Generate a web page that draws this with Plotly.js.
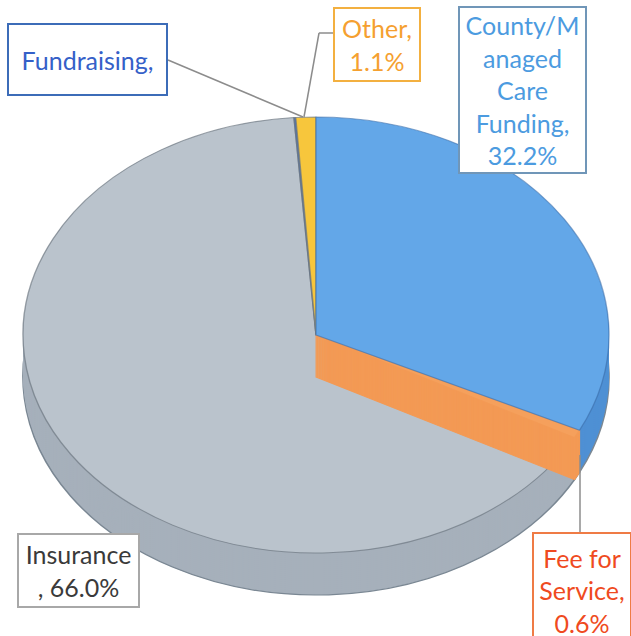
<!DOCTYPE html>
<html><head><meta charset="utf-8">
<script src="https://cdn.plot.ly/plotly-3.0.1.min.js"></script>
<style>html,body{margin:0;padding:0;background:#fff}#chart{width:631px;height:636px}</style>
</head><body><div id="chart"></div>
<script>
// ---- data ----
const categories = ["County/Managed Care Funding", "Fee for Service", "Insurance", "Fundraising", "Other"];
const shares = [32.2, 0.6, 66.0, 0.1, 1.1];
const labelTexts = ["County/M<br>anaged<br>Care<br>Funding,<br>32.2%", "Fee for<br>Service,<br>0.6%", "Insurance<br>, 66.0%", "Fundraising,", "Other,<br>1.1%"];
const topColors = ["#63a7e8", "#f5a05c", "#bac3cc", "#4472c4", "#f7c63c"];
const sideColors = ["#4f90d4", "#e88c48", "#a6b0bb", "#3a62a8", "#dfab2a"];
const labelFontColors = ["#4c9be0", "#ef4a20", "#3a3a3a", "#3560c8", "#f5a030"];
const labelBorderColors = ["#7096b8", "#ef7b45", "#a8a8a8", "#3c6cb8", "#f3b040"];

// ---- geometry (layout only) ----
const W = 631, H = 636;
const CX = 316, CY = 335, R = 218, SX = 293 / 218;
const DEPTH = 42, STEP = 2;
const CLEAR = "rgba(0,0,0,0)";

function pieTrace(offset, colors, lineW, lineC) {
  return {
    type: "pie", labels: categories, values: shares, sort: false,
    direction: "clockwise", rotation: 0, textinfo: "none", hoverinfo: "none",
    showlegend: false,
    domain: { x: [(CX - R) / W, (CX + R) / W], y: [1 - (CY + offset + R) / H, 1 - (CY + offset - R) / H] },
    marker: { colors: colors, line: { width: lineW, color: lineC } }
  };
}

const data = [];
// side wall layers (bottom first)
for (let off = DEPTH; off >= STEP; off -= STEP) {
  const isBottom = off === DEPTH;
  data.push(pieTrace(off, sideColors, isBottom ? 1.2 : 0, "#7a8793"));
}
// top face (insurance, fundraising, other)
data.push(pieTrace(0, [CLEAR, CLEAR, topColors[2], topColors[3], topColors[4]],
  [0, 0, 1, 1, 1], "rgba(110,120,130,0.7)"));
// cut face of the fee-for-service slice
for (let off = DEPTH; off >= 0; off -= 1) {
  data.push(pieTrace(off, [CLEAR, off === 0 ? topColors[1] : "#f39a55", CLEAR, CLEAR, CLEAR], [0, 1, 0, 0, 0], "#f39a55"));
}
// county top face
data.push(pieTrace(0, [topColors[0], CLEAR, CLEAR, CLEAR, CLEAR], [1, 0, 0, 0, 0], "rgba(60,110,170,0.6)"));

// ---- label boxes ----
const boxes = [
  { i: 0, cx: 522.5, cy: 90, w: 129, h: 168 },
  { i: 1, cx: 582, cy: 590, w: 100, h: 116 },
  { i: 2, cx: 78.5, cy: 570.5, w: 123, h: 75 },
  { i: 3, cx: 87.5, cy: 59.5, w: 161, h: 73 },
  { i: 4, cx: 377, cy: 44.5, w: 88, h: 75 }
];
const annotations = boxes.map(b => ({
  xref: "paper", yref: "paper", x: b.cx / W, y: 1 - b.cy / H,
  xanchor: "center", yanchor: "middle", showarrow: false,
  text: labelTexts[b.i], align: "center",
  font: { family: "Lato, 'Open Sans', sans-serif", size: 25, color: labelFontColors[b.i] },
  bgcolor: "#ffffff", bordercolor: labelBorderColors[b.i], borderwidth: 2, borderpad: 0,
  width: b.w - 4, height: b.h - 4
}));

// leader lines
function seg(x0, y0, x1, y1) {
  return { type: "line", xref: "paper", yref: "paper", x0: x0 / W, y0: 1 - y0 / H, x1: x1 / W, y1: 1 - y1 / H,
    line: { color: "#8c8c8c", width: 1.5 }, layer: "above" };
}
const shapes = [
  seg(168, 60, 303, 117),
  seg(333, 33, 319, 33), seg(319, 33, 304, 117),
  seg(580, 532, 580, 455)
];

const layout = {
  width: W, height: H, margin: { l: 0, r: 0, t: 0, b: 0 },
  paper_bgcolor: "#ffffff", plot_bgcolor: "#ffffff",
  annotations: annotations, shapes: shapes, showlegend: false
};

Plotly.newPlot("chart", data, layout, { displayModeBar: false, staticPlot: true }).then(() => {
  const g = document.querySelector("#chart .pielayer");
  if (g) g.setAttribute("transform", `translate(${CX},0) scale(${SX},1) translate(${-CX},0)`);
});
</script>
</body></html>
